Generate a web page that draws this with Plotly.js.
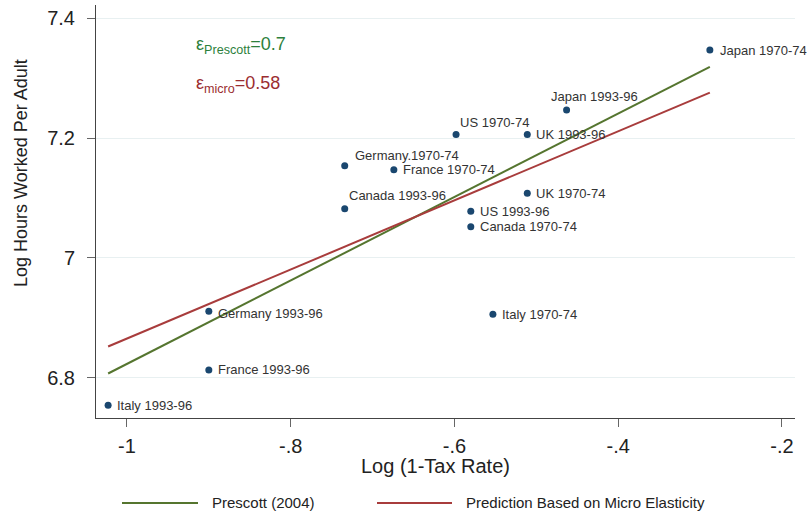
<!DOCTYPE html>
<html>
<head>
<meta charset="utf-8">
<script src="https://cdn.plot.ly/plotly-3.0.1.min.js"></script>
<style>html,body{margin:0;padding:0;background:#fff;}#chart{width:809px;height:519px;}</style>
</head>
<body>
<div id="chart"></div>
<script>
// ---- data ----
const countries = ["Japan 1970-74","Japan 1993-96","US 1970-74","UK 1993-96","Germany.1970-74","France 1970-74","Canada 1993-96","UK 1970-74","US 1993-96","Canada 1970-74","Germany 1993-96","France 1993-96","Italy 1993-96","Italy 1970-74"];
const logNetOfTax = [-0.288,-0.463,-0.598,-0.511,-0.734,-0.674,-0.734,-0.511,-0.580,-0.580,-0.900,-0.900,-1.023,-0.553];
const logHours = [7.347,7.247,7.206,7.206,7.154,7.147,7.082,7.108,7.078,7.052,6.911,6.813,6.754,6.906];
const fitX = [-1.023,-0.288];
const prescottY = [6.807,7.319];
const microY = [6.852,7.276];
const seriesNames = ["Prescott (2004)","Prediction Based on Micro Elasticity"];
const xTickVals = [-1,-0.8,-0.6,-0.4,-0.2];
const xTickText = ["-1","-.8","-.6","-.4","-.2"];
const yTickVals = [6.8,7,7.2,7.4];
const yTickText = ["6.8","7","7.2","7.4"];
const elasticityText = ["ε<sub>Prescott</sub>=0.7","ε<sub>micro</sub>=0.58"];

// ---- styling (label offsets in px: [dx, dy]) ----
const labelOffsets = [[8,0],[-18,-13],[2,-12],[7,0],[8,-10],[7,0],[2,-13],[7,0],[7,0],[7,0],[7,2],[7,0],[7,0],[7,0]];
const green = '#55752f', red = '#a83c3c', navy = '#1a476f';
const FONT = 'Liberation Sans, Arial, sans-serif';

const traces = [
  {x: fitX, y: prescottY, mode:'lines', line:{color:green, width:2}, name: seriesNames[0], showlegend:false, hoverinfo:'skip'},
  {x: fitX, y: microY, mode:'lines', line:{color:red, width:2}, name: seriesNames[1], showlegend:false, hoverinfo:'skip'},
  {x: logNetOfTax, y: logHours, mode:'markers', marker:{color:navy, size:7}, showlegend:false, hoverinfo:'skip'}
];

const annotations = countries.map((c,i)=>({
  x: logNetOfTax[i], y: logHours[i], xref:'x', yref:'y', text:c, showarrow:false,
  xanchor:'left', yanchor:'middle', xshift: labelOffsets[i][0], yshift: -labelOffsets[i][1],
  font:{family:FONT, size:13, color:'#333'}
}));
// pixel layout helpers
const L = 96, R = 795, T = 5, B = 418;
const px = v => (v - L)/(R - L), py = v => (B - v)/(B - T);
annotations.push(
  {x:px(194), y:py(45), xref:'paper', yref:'paper', text:elasticityText[0], showarrow:false, xanchor:'left', yanchor:'middle', font:{family:FONT, size:18, color:'#2d7f3c'}},
  {x:px(194), y:py(84), xref:'paper', yref:'paper', text:elasticityText[1], showarrow:false, xanchor:'left', yanchor:'middle', font:{family:FONT, size:18, color:'#9b2d30'}},
  {x:px(435), y:py(466), xref:'paper', yref:'paper', text:'Log (1-Tax Rate)', showarrow:false, xanchor:'center', yanchor:'middle', font:{family:FONT, size:20, color:'#222'}},
  {x:px(21), y:py(173), xref:'paper', yref:'paper', text:'Log Hours Worked Per Adult', textangle:-90, showarrow:false, xanchor:'center', yanchor:'middle', font:{family:FONT, size:18, color:'#222'}},
  {x:px(210), y:py(503), xref:'paper', yref:'paper', text:seriesNames[0], showarrow:false, xanchor:'left', yanchor:'middle', font:{family:FONT, size:15, color:'#222'}},
  {x:px(464), y:py(503), xref:'paper', yref:'paper', text:seriesNames[1], showarrow:false, xanchor:'left', yanchor:'middle', font:{family:FONT, size:15, color:'#222'}}
);
const shapes = [
  {type:'line', xref:'paper', yref:'paper', x0:px(122), x1:px(198), y0:py(503), y1:py(503), line:{color:green, width:2}},
  {type:'line', xref:'paper', yref:'paper', x0:px(377), x1:px(452), y0:py(503), y1:py(503), line:{color:red, width:2}}
];

const layout = {
  width:809, height:519,
  margin:{l:L, r:809-R, t:T, b:519-B},
  paper_bgcolor:'#fff', plot_bgcolor:'#fff',
  font:{family:FONT, color:'#222'},
  xaxis:{range:[-1.0378,-0.184], tickvals:xTickVals, ticktext:xTickText, showgrid:false, zeroline:false,
         showline:true, linecolor:'#444', linewidth:1, ticks:'outside', ticklen:8, tickcolor:'#666',
         ticklabelstandoff:2, tickfont:{family:FONT, size:20, color:'#222'}},
  yaxis:{range:[6.7327,7.4222], tickvals:yTickVals, ticktext:yTickText, showgrid:true, gridcolor:'#e8f0f1', gridwidth:1, zeroline:false,
         showline:true, linecolor:'#444', linewidth:1, ticks:'outside', ticklen:8, tickcolor:'#666',
         ticklabelstandoff:8, tickfont:{family:FONT, size:20, color:'#222'}},
  annotations: annotations,
  shapes: shapes,
  showlegend:false
};
Plotly.newPlot('chart', traces, layout, {displayModeBar:false, staticPlot:true});
</script>
</body>
</html>
